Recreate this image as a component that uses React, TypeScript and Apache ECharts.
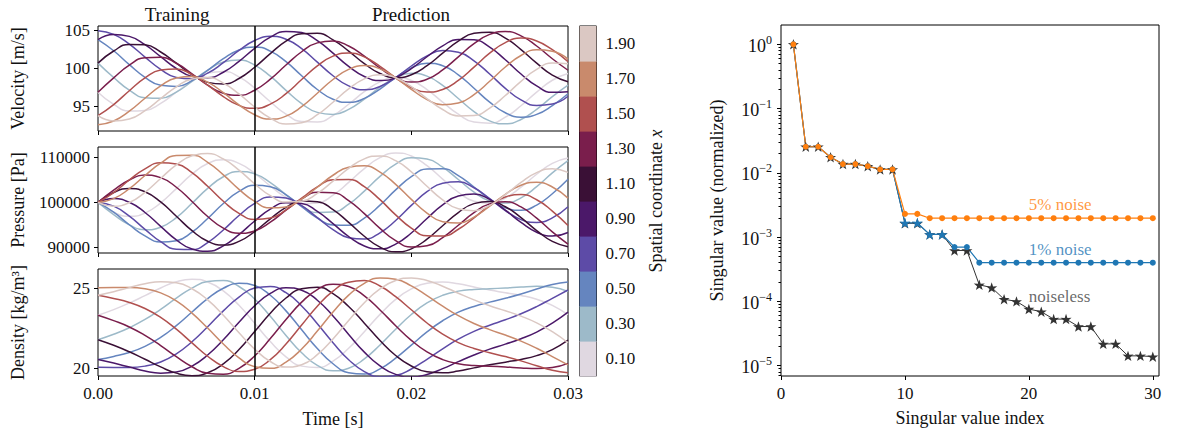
import React, { useEffect, useRef } from 'react';
import * as echarts from 'echarts';

// ---------- left panels: time series at ten spatial coordinates ----------
const TIME = [0, 0.001, 0.002, 0.003, 0.004, 0.005, 0.006, 0.007, 0.008, 0.009, 0.01, 0.011, 0.012, 0.013, 0.014, 0.015, 0.016, 0.017, 0.018, 0.019, 0.02, 0.021, 0.022, 0.023, 0.024, 0.025, 0.026, 0.027, 0.028, 0.029, 0.03];
const SPLIT_TIME = 0.01;
const X_COORDS = [0.1, 0.3, 0.5, 0.7, 0.9, 1.1, 1.3, 1.5, 1.7, 1.9];
const X_COLORS = ['#e0d8e1', '#9dbac9', '#6585bf', '#5d4ba7', '#4b1869', '#3a1036', '#7a1e4c', '#b0504f', '#c98a6c', '#dbc8c3'];

const V_01 = [96.88, 95.28, 94.41, 94.48, 95.41, 96.88, 98.39, 99.42, 99.63, 98.91, 97.43, 95.62, 93.99, 93.01, 92.95, 93.8, 95.29, 96.95, 98.25, 98.8, 98.42, 97.22, 95.57, 93.98, 92.94, 92.79, 93.58, 95.09, 96.89, 98.46, 99.34];
const V_03 = [100.72, 98.82, 97.15, 96.16, 96.09, 96.9, 98.3, 99.79, 100.86, 101.13, 100.46, 99.0, 97.13, 95.38, 94.22, 93.95, 94.62, 95.96, 97.54, 98.81, 99.37, 99.0, 97.78, 96.05, 94.32, 93.09, 92.71, 93.28, 94.62, 96.3, 97.82];
const V_05 = [103.82, 102.35, 100.52, 98.84, 97.79, 97.65, 98.4, 99.77, 101.3, 102.46, 102.85, 102.3, 100.91, 99.05, 97.24, 95.95, 95.54, 96.06, 97.3, 98.82, 100.1, 100.7, 100.38, 99.18, 97.41, 95.57, 94.17, 93.58, 93.95, 95.11, 96.68];
const V_07 = [105.0, 104.52, 103.23, 101.52, 99.89, 98.83, 98.65, 99.39, 100.78, 102.39, 103.7, 104.26, 103.88, 102.64, 100.85, 99.05, 97.71, 97.21, 97.64, 98.82, 100.34, 101.68, 102.37, 102.15, 101.03, 99.28, 97.39, 95.87, 95.13, 95.32, 96.35];
const V_09 = [103.82, 104.51, 104.25, 103.15, 101.57, 100.01, 98.97, 98.78, 99.51, 100.95, 102.67, 104.14, 104.91, 104.75, 103.69, 102.04, 100.29, 98.96, 98.42, 98.81, 99.99, 101.56, 103.0, 103.85, 103.79, 102.82, 101.16, 99.28, 97.71, 96.86, 96.95];
const V_11 = [100.72, 102.32, 103.19, 103.13, 102.19, 100.72, 99.21, 98.18, 97.97, 98.69, 100.17, 101.98, 103.61, 104.59, 104.65, 103.8, 102.31, 100.65, 99.35, 98.8, 99.18, 100.38, 102.03, 103.62, 104.66, 104.81, 104.02, 102.51, 100.71, 99.14, 98.26];
const V_13 = [96.88, 98.78, 100.45, 101.44, 101.51, 100.7, 99.31, 97.81, 96.75, 96.47, 97.14, 98.6, 100.47, 102.22, 103.39, 103.65, 102.98, 101.64, 100.07, 98.79, 98.23, 98.6, 99.82, 101.55, 103.28, 104.51, 104.89, 104.32, 102.98, 101.3, 99.78];
const V_15 = [93.78, 95.25, 97.08, 98.76, 99.81, 99.95, 99.2, 97.83, 96.3, 95.14, 94.75, 95.3, 96.69, 98.55, 100.36, 101.65, 102.06, 101.54, 100.3, 98.78, 97.5, 96.9, 97.23, 98.43, 100.19, 102.03, 103.43, 104.02, 103.65, 102.49, 100.92];
const V_17 = [92.6, 93.08, 94.37, 96.08, 97.71, 98.77, 98.95, 98.21, 96.82, 95.21, 93.9, 93.34, 93.72, 94.97, 96.75, 98.56, 99.89, 100.39, 99.96, 98.78, 97.26, 95.92, 95.23, 95.45, 96.57, 98.32, 100.21, 101.73, 102.47, 102.28, 101.25];
const V_19 = [93.78, 93.09, 93.35, 94.45, 96.03, 97.59, 98.63, 98.82, 98.09, 96.65, 94.93, 93.46, 92.69, 92.85, 93.91, 95.56, 97.31, 98.64, 99.18, 98.79, 97.61, 96.04, 94.6, 93.75, 93.81, 94.79, 96.44, 98.32, 99.89, 100.74, 100.65];

const P_01 = [100000, 97805, 96898, 97629, 99884, 103064, 106276, 108635, 109493, 108668, 106474, 103647, 101106, 99675, 99846, 101595, 104439, 107519, 109944, 110978, 110318, 108168, 105181, 102255, 100270, 99802, 100968, 103377, 106254, 108674, 109851];
const P_03 = [100000, 97294, 95011, 93933, 94494, 96634, 99796, 103124, 105704, 106870, 106342, 104400, 101722, 99230, 97761, 97866, 99593, 102503, 105775, 108503, 109906, 109636, 107821, 105082, 102288, 100330, 99851, 101012, 103498, 106551, 109268];
const P_05 = [100000, 97816, 95028, 92542, 91205, 91486, 93389, 96425, 99747, 102442, 103790, 103465, 101683, 99070, 96535, 94951, 94912, 96518, 99395, 102772, 105709, 107420, 107480, 105968, 103427, 100737, 98790, 98267, 99406, 101931, 105137];
const P_07 = [100000, 99169, 96947, 94016, 91277, 89594, 89511, 91084, 93878, 97090, 99791, 101210, 100996, 99268, 96634, 93966, 92168, 91871, 93251, 95985, 99329, 102371, 104279, 104571, 103262, 100858, 98196, 96177, 95539, 96568, 99048];
const P_09 = [100000, 100842, 100033, 97761, 94676, 91678, 89638, 89159, 90347, 92844, 95869, 98498, 99928, 99747, 98014, 95286, 92421, 90325, 89682, 90732, 93207, 96414, 99439, 101430, 101854, 100655, 98284, 95550, 93372, 92514, 93323];
const P_11 = [100000, 102195, 103102, 102371, 100116, 96936, 93724, 91365, 90507, 91332, 93526, 96353, 98894, 100325, 100154, 98405, 95561, 92481, 90056, 89022, 89682, 91832, 94819, 97745, 99730, 100198, 99032, 96623, 93746, 91326, 90149];
const P_13 = [100000, 102706, 104989, 106067, 105506, 103366, 100204, 96876, 94296, 93130, 93658, 95600, 98278, 100770, 102239, 102134, 100407, 97497, 94225, 91497, 90094, 90364, 92179, 94918, 97712, 99670, 100149, 98988, 96502, 93449, 90732];
const P_15 = [100000, 102184, 104972, 107458, 108795, 108514, 106611, 103575, 100253, 97558, 96210, 96535, 98317, 100930, 103465, 105049, 105088, 103482, 100605, 97228, 94291, 92580, 92520, 94032, 96573, 99263, 101210, 101733, 100594, 98069, 94863];
const P_17 = [100000, 100831, 103053, 105984, 108723, 110406, 110489, 108916, 106122, 102910, 100209, 98790, 99004, 100732, 103366, 106034, 107832, 108129, 106749, 104015, 100671, 97629, 95721, 95429, 96738, 99142, 101804, 103823, 104461, 103432, 100952];
const P_19 = [100000, 99158, 99967, 102239, 105324, 108322, 110362, 110841, 109653, 107156, 104131, 101502, 100072, 100253, 101986, 104714, 107579, 109675, 110318, 109268, 106793, 103586, 100561, 98570, 98146, 99345, 101716, 104450, 106628, 107486, 106677];

const D_01 = [23.32, 23.67, 24.08, 24.55, 25.03, 25.42, 25.58, 25.4, 24.84, 23.94, 22.81, 21.66, 20.7, 20.12, 20.03, 20.43, 21.24, 22.28, 23.37, 24.31, 24.97, 25.33, 25.4, 25.29, 25.09, 24.9, 24.73, 24.56, 24.32, 23.94, 23.35];
const D_03 = [21.78, 22.12, 22.53, 23.05, 23.69, 24.39, 25.02, 25.43, 25.49, 25.12, 24.34, 23.25, 22.05, 20.96, 20.17, 19.83, 19.99, 20.57, 21.45, 22.44, 23.36, 24.09, 24.57, 24.83, 24.94, 24.98, 25.03, 25.09, 25.13, 25.07, 24.81];
const D_05 = [20.53, 20.73, 20.98, 21.36, 21.92, 22.66, 23.52, 24.36, 25.01, 25.32, 25.18, 24.57, 23.59, 22.4, 21.22, 20.27, 19.71, 19.62, 19.95, 20.62, 21.44, 22.27, 22.97, 23.51, 23.87, 24.14, 24.38, 24.65, 24.96, 25.24, 25.4];
const D_07 = [20.05, 20.04, 20.04, 20.12, 20.38, 20.89, 21.65, 22.59, 23.59, 24.46, 25.02, 25.12, 24.73, 23.9, 22.78, 21.59, 20.52, 19.78, 19.45, 19.53, 19.94, 20.55, 21.21, 21.81, 22.3, 22.69, 23.03, 23.41, 23.86, 24.38, 24.9];
const D_09 = [20.53, 20.31, 20.06, 19.81, 19.68, 19.75, 20.12, 20.82, 21.78, 22.88, 23.91, 24.69, 25.04, 24.89, 24.26, 23.27, 22.11, 21.0, 20.13, 19.6, 19.44, 19.6, 19.96, 20.4, 20.82, 21.19, 21.5, 21.84, 22.26, 22.82, 23.51];
const D_11 = [21.78, 21.43, 21.02, 20.55, 20.07, 19.68, 19.52, 19.7, 20.26, 21.16, 22.29, 23.44, 24.4, 24.98, 25.08, 24.67, 23.86, 22.82, 21.73, 20.79, 20.13, 19.77, 19.7, 19.81, 20.01, 20.2, 20.37, 20.54, 20.78, 21.16, 21.75];
const D_13 = [23.32, 22.98, 22.58, 22.05, 21.41, 20.71, 20.08, 19.67, 19.61, 19.98, 20.76, 21.85, 23.05, 24.14, 24.93, 25.27, 25.12, 24.53, 23.65, 22.66, 21.74, 21.01, 20.53, 20.27, 20.16, 20.12, 20.07, 20.01, 19.97, 20.03, 20.29];
const D_15 = [24.57, 24.37, 24.12, 23.74, 23.18, 22.44, 21.58, 20.74, 20.09, 19.78, 19.92, 20.53, 21.51, 22.7, 23.88, 24.83, 25.39, 25.49, 25.15, 24.48, 23.66, 22.83, 22.13, 21.6, 21.23, 20.96, 20.72, 20.45, 20.14, 19.86, 19.7];
const D_17 = [25.05, 25.06, 25.06, 24.98, 24.72, 24.22, 23.45, 22.51, 21.51, 20.64, 20.08, 19.98, 20.37, 21.2, 22.32, 23.52, 24.58, 25.32, 25.65, 25.57, 25.16, 24.55, 23.89, 23.29, 22.8, 22.41, 22.07, 21.69, 21.24, 20.72, 20.2];
const D_19 = [24.57, 24.79, 25.05, 25.29, 25.42, 25.35, 24.98, 24.28, 23.32, 22.22, 21.19, 20.41, 20.06, 20.21, 20.84, 21.83, 22.99, 24.1, 24.97, 25.5, 25.66, 25.5, 25.14, 24.7, 24.28, 23.91, 23.6, 23.26, 22.84, 22.28, 21.59];

const VELOCITY = [V_01, V_03, V_05, V_07, V_09, V_11, V_13, V_15, V_17, V_19];
const PRESSURE = [P_01, P_03, P_05, P_07, P_09, P_11, P_13, P_15, P_17, P_19];
const DENSITY = [D_01, D_03, D_05, D_07, D_09, D_11, D_13, D_15, D_17, D_19];

const TIME_TICKS = [0, 0.01, 0.02, 0.03];
const VEL_TICKS = [95, 100, 105];
const PRES_TICKS = [90000, 100000, 110000];
const DENS_TICKS = [20, 25];

// ---------- right panel: singular value decay ----------
const SV_INDEX = [1, 2, 3, 4, 5, 6, 7, 8, 9, 10, 11, 12, 13, 14, 15, 16, 17, 18, 19, 20, 21, 22, 23, 24, 25, 26, 27, 28, 29, 30];
const SV_NOISELESS = [1.0, 0.0255, 0.0255, 0.0175, 0.0137, 0.0137, 0.0127, 0.0113, 0.0113, 0.00164, 0.00164, 0.0011, 0.0011, 0.00062, 0.00062, 0.000181, 0.000164, 0.000108, 0.0001, 0.000076, 0.000069, 0.000053, 0.000053, 0.0000406, 0.0000406, 0.0000218, 0.0000218, 0.0000142, 0.0000142, 0.0000138];
const SV_NOISE1 = [1.0, 0.0255, 0.0255, 0.0175, 0.0137, 0.0137, 0.0127, 0.0113, 0.0113, 0.00167, 0.00167, 0.0011, 0.0011, 0.0007, 0.0007, 0.0004, 0.0004, 0.0004, 0.0004, 0.0004, 0.0004, 0.0004, 0.0004, 0.0004, 0.0004, 0.0004, 0.0004, 0.0004, 0.0004, 0.0004];
const SV_NOISE5 = [1.0, 0.0255, 0.0255, 0.0175, 0.0137, 0.0137, 0.0127, 0.0113, 0.0113, 0.0023, 0.0023, 0.00197, 0.00197, 0.00197, 0.00197, 0.00197, 0.00197, 0.00197, 0.00197, 0.00197, 0.00197, 0.00197, 0.00197, 0.00197, 0.00197, 0.00197, 0.00197, 0.00197, 0.00197, 0.00197];
const NOISE1_STAR_INDEX = [10, 11, 12, 13];
const SV_X_TICKS = [0, 10, 20, 30];
const SV_Y_TICKS = [1e-5, 1e-4, 1e-3, 1e-2, 1e-1, 1];
const MINOR_MULTS = [2, 3, 4, 5, 6, 7, 8, 9];
const MINOR_DECADES = [1e-6, 1e-5, 1e-4, 1e-3, 1e-2, 1e-1, 1];
const NOTE_LABELS = ['5% noise', '1% noise', 'noiseless'];
const NOTE_X = [20, 20, 20];
const NOTE_Y = [3.2e-3, 6.5e-4, 1.19e-4];
const NOTE_COLORS = ['#ff7f0e', '#1f77b4', '#444444'];

const FONT = '"Liberation Serif", "DejaVu Serif", serif';
const TXT = '#111';
const STAR = 'path://M50,0 L61.8,35.1 L97.6,34.5 L69.1,56.7 L79.4,90.5 L50,70 L20.6,90.5 L30.9,56.7 L2.4,34.5 L38.2,35.1 Z';

const Y_MIN = 6.9e-6;
const Y_MAX = 2;

function supLabel(v: number) {
  const e = Math.round(Math.log10(v));
  const s = e < 0 ? '\u2212' + String(-e) : String(e);
  return '{b|10}{s|' + s + '}';
}

function buildOption() {
  const tickText = { fontFamily: FONT, color: TXT, fontSize: 17 };
  const nameText = { fontFamily: FONT, color: TXT, fontSize: 18 };
  const frame = { show: true, borderColor: '#000', borderWidth: 1, backgroundColor: 'transparent', outerBoundsMode: 'none' };
  const grids = [
    { ...frame, left: 98, top: 26, width: 470, height: 105 },
    { ...frame, left: 98, top: 147, width: 470, height: 106 },
    { ...frame, left: 98, top: 269, width: 470, height: 107 },
    { ...frame, left: 579.5, top: 26, width: 17, height: 350 },
    { ...frame, left: 781, top: 25, width: 378, height: 351 },
  ];

  const tick = (vals: number[], len = 4) => ({ show: true, length: len, lineStyle: { color: '#000', width: 1 }, customValues: vals });

  const timeAxis = (g: number, labels: boolean) => ({
    type: 'value', gridIndex: g, min: 0, max: 0.03,
    axisLine: { show: false }, splitLine: { show: false },
    axisTick: tick(TIME_TICKS),
    axisLabel: { show: labels, customValues: TIME_TICKS, margin: 9, formatter: (v: number) => v.toFixed(2), ...tickText },
    ...(labels ? { name: 'Time [s]', nameLocation: 'middle', nameGap: 34, nameTextStyle: { ...nameText }, nameMoveOverlap: false } : {}),
  });

  const valAxis = (g: number, min: number, max: number, ticks: number[], name: string) => ({
    type: 'value', gridIndex: g, min, max,
    axisLine: { show: false }, splitLine: { show: false },
    axisTick: tick(ticks),
    axisLabel: { customValues: ticks, margin: 8, formatter: (v: number) => String(v), ...tickText },
    name, nameLocation: 'middle', nameRotate: 90, nameGap: 71, nameTextStyle: { ...nameText }, nameMoveOverlap: false,
  });

  const minorTicks: number[] = [];
  MINOR_DECADES.forEach((d) => MINOR_MULTS.forEach((m) => {
    const v = d * m;
    if (v > Y_MIN && v < Y_MAX) minorTicks.push(v);
  }));

  const xAxis: any[] = [
    timeAxis(0, false), timeAxis(1, false), timeAxis(2, true),
    { type: 'value', gridIndex: 3, min: 0, max: 1, show: false },
    {
      type: 'value', gridIndex: 4, min: 0, max: 30.5,
      axisLine: { show: false }, splitLine: { show: false },
      axisTick: tick(SV_X_TICKS),
      axisLabel: { customValues: SV_X_TICKS, margin: 9, ...tickText },
      name: 'Singular value index', nameLocation: 'middle', nameGap: 33, nameTextStyle: { ...nameText }, nameMoveOverlap: false,
    },
  ];

  const yAxis: any[] = [
    valAxis(0, 91.76, 105.62, VEL_TICKS, 'Velocity [m/s]'),
    valAxis(1, 88756, 112311, PRES_TICKS, 'Pressure [Pa]'),
    valAxis(2, 19.5, 26.22, DENS_TICKS, 'Density [kg/m\u00b3]'),
    {
      type: 'value', gridIndex: 3, min: 0, max: 2, position: 'right',
      axisLine: { show: false }, splitLine: { show: false },
      axisTick: tick(X_COORDS),
      axisLabel: { customValues: X_COORDS, margin: 9, formatter: (v: number) => v.toFixed(2), ...tickText },
      name: 'Spatial coordinate {i|x}', nameLocation: 'middle', nameRotate: 90, nameGap: 50,
      nameTextStyle: { ...nameText, rich: { i: { fontStyle: 'italic', fontFamily: FONT, fontSize: 18, color: TXT } } }, nameMoveOverlap: false,
    },
    {
      type: 'log', logBase: 10, gridIndex: 4, min: Y_MIN, max: Y_MAX, position: 'left',
      axisLine: { show: false }, splitLine: { show: false }, minorTick: { show: false },
      axisTick: tick(SV_Y_TICKS),
      axisLabel: {
        customValues: SV_Y_TICKS, margin: 9, formatter: supLabel,
        rich: {
          b: { fontFamily: FONT, fontSize: 18, color: TXT, verticalAlign: 'bottom' },
          s: { fontFamily: FONT, fontSize: 12, color: TXT, verticalAlign: 'bottom', padding: [0, 0, 9, 0] },
        },
      },
      name: 'Singular value (normalized)', nameLocation: 'middle', nameRotate: 90, nameGap: 55, nameTextStyle: { ...nameText }, nameMoveOverlap: false,
    },
    {
      type: 'log', logBase: 10, gridIndex: 4, min: Y_MIN, max: Y_MAX, position: 'left',
      axisLine: { show: false }, splitLine: { show: false },
      axisTick: tick(minorTicks, 2.5), axisLabel: { show: false },
    },
  ];

  const panel = (k: number, sets: number[][]) => sets.map((arr, i) => ({
    type: 'line', xAxisIndex: k, yAxisIndex: k,
    data: TIME.map((t, n) => [t, arr[n]]),
    smooth: true, showSymbol: false, symbol: 'none', silent: true,
    lineStyle: { color: X_COLORS[i], width: 1.5 },
    itemStyle: { color: X_COLORS[i] },
    ...(i === sets.length - 1 ? {
      markLine: {
        silent: true, symbol: 'none', label: { show: false },
        lineStyle: { color: '#000', width: 1.5, type: 'solid' },
        data: [{ xAxis: SPLIT_TIME }],
      },
    } : {}),
  }));

  const series: any[] = [
    ...panel(0, VELOCITY),
    ...panel(1, PRESSURE),
    ...panel(2, DENSITY),
    {
      type: 'custom', xAxisIndex: 3, yAxisIndex: 3, silent: true,
      data: X_COORDS.map((x, i) => ({ value: [x - 0.1, x + 0.1], itemStyle: { color: X_COLORS[i] } })),
      renderItem: (_p: any, api: any) => {
        const lo = api.value(0);
        const hi = api.value(1);
        const a = api.coord([0, hi]);
        const b = api.coord([1, lo]);
        return { type: 'rect', shape: { x: a[0], y: a[1], width: b[0] - a[0], height: b[1] - a[1] + 0.6 }, style: { fill: api.visual('color') } };
      },
    },
    {
      type: 'line', xAxisIndex: 4, yAxisIndex: 4, silent: true,
      data: SV_INDEX.map((x, n) => [x, SV_NOISELESS[n]]),
      symbol: STAR, symbolSize: 11, symbolKeepAspect: true,
      lineStyle: { color: '#333333', width: 1 }, itemStyle: { color: '#333333' },
    },
    {
      type: 'line', xAxisIndex: 4, yAxisIndex: 4, silent: true,
      data: SV_INDEX.map((x, n) => (NOISE1_STAR_INDEX.indexOf(x) >= 0
        ? { value: [x, SV_NOISE1[n]], symbol: STAR, symbolSize: 11 }
        : { value: [x, SV_NOISE1[n]] })),
      symbol: 'circle', symbolSize: 6, symbolKeepAspect: true,
      lineStyle: { color: '#1f77b4', width: 1.2 }, itemStyle: { color: '#1f77b4' },
    },
    {
      type: 'line', xAxisIndex: 4, yAxisIndex: 4, silent: true,
      data: SV_INDEX.map((x, n) => [x, SV_NOISE5[n]]),
      symbol: 'circle', symbolSize: 6,
      lineStyle: { color: '#ff7f0e', width: 1.2 }, itemStyle: { color: '#ff7f0e' },
    },
    ...NOTE_LABELS.map((txt, i) => ({
      type: 'scatter', xAxisIndex: 4, yAxisIndex: 4, silent: true,
      data: [[NOTE_X[i], NOTE_Y[i]]], symbolSize: 0,
      label: { show: true, position: 'right', distance: 0, formatter: txt, fontFamily: FONT, fontSize: 17, color: NOTE_COLORS[i] },
    })),
  ];

  return {
    animation: false,
    backgroundColor: '#ffffff',
    textStyle: { fontFamily: FONT },
    grid: grids,
    xAxis,
    yAxis,
    series,
    graphic: [
      { type: 'text', x: 177, y: 14, style: { text: 'Training', fontFamily: FONT, fontSize: 19, fill: TXT, textAlign: 'center', textVerticalAlign: 'middle' } },
      { type: 'text', x: 411, y: 14, style: { text: 'Prediction', fontFamily: FONT, fontSize: 19, fill: TXT, textAlign: 'center', textVerticalAlign: 'middle' } },
    ],
  };
}

export default function App() {
  const ref = useRef<HTMLDivElement>(null);
  useEffect(() => {
    if (!ref.current) return;
    const chart = echarts.init(ref.current, undefined, { renderer: 'svg' });
    chart.setOption(buildOption() as any);
    return () => chart.dispose();
  }, []);
  return (
    <div
      ref={ref}
      style={{ position: 'fixed', left: 0, top: 0, width: 1179, height: 435, background: '#fff' }}
    />
  );
}
